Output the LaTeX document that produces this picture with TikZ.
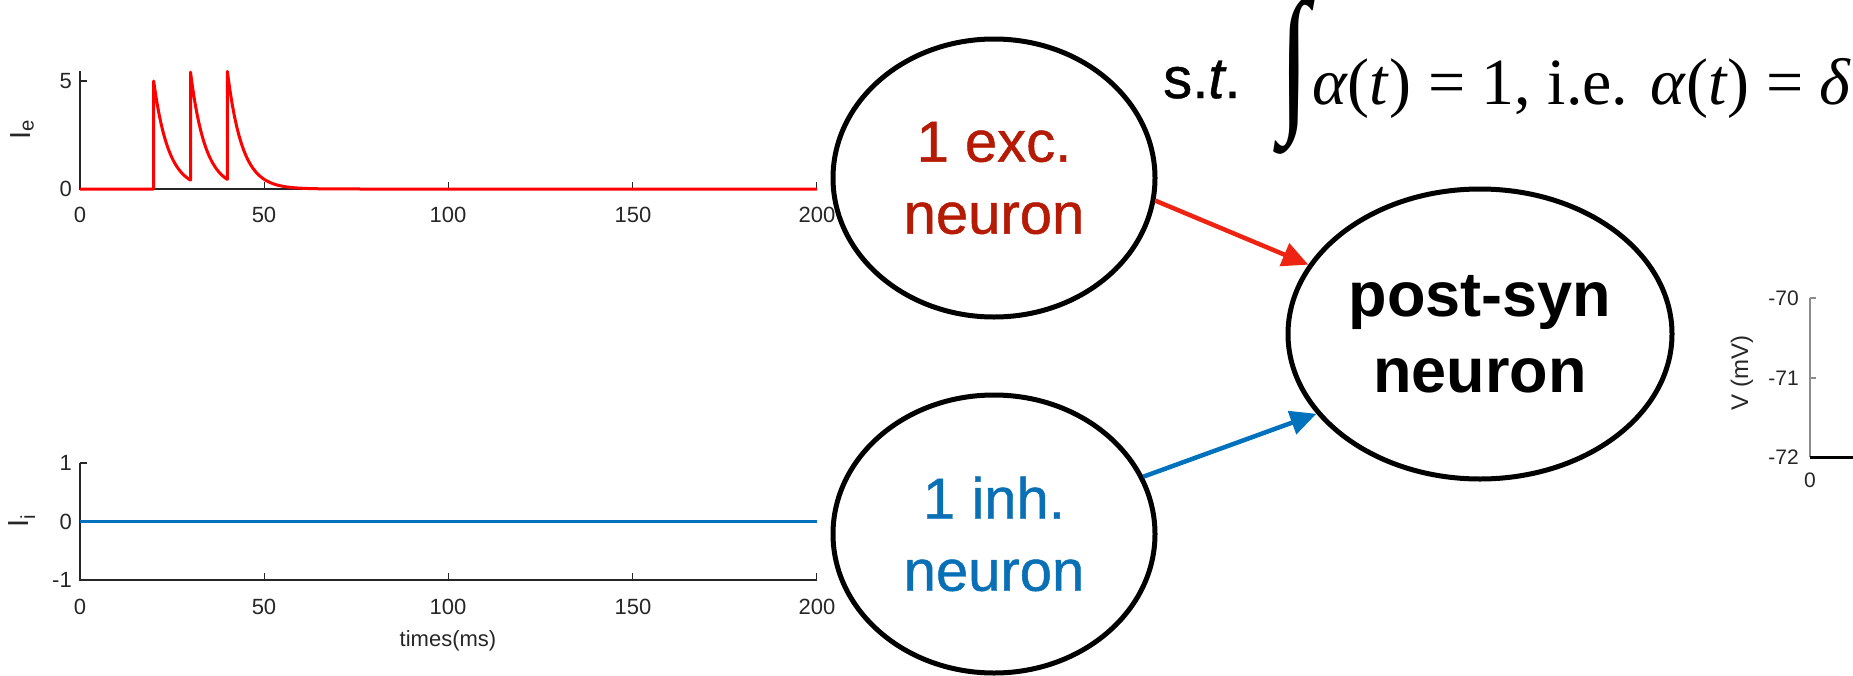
\documentclass[tikz,border=0pt]{standalone}
\usepackage{fontspec}
\setmainfont{Liberation Sans}
\newfontfamily\tnr{Liberation Serif}
\newfontfamily\nfont[FakeBold=0.8]{Liberation Sans}
\usetikzlibrary{arrows.meta,shapes.geometric}
\definecolor{axgray}{HTML}{262626}
\definecolor{lightax}{HTML}{8C8C8C}
\definecolor{excred}{HTML}{B51A05}
\definecolor{arrred}{HTML}{EE2412}
\definecolor{curvered}{HTML}{FF0000}
\definecolor{mblue}{HTML}{0072BD}
\definecolor{inhblue}{HTML}{0A70B5}
\begin{document}
\begin{tikzpicture}[x=1pt,y=-1pt,
  axisline/.style={draw=axgray, line width=1.2pt},
  ticklab/.style={text=axgray, font=\fontsize{22}{24}\selectfont, inner sep=0pt},
  neuron/.style={ellipse, draw=black, line width=5pt, inner sep=0pt, align=center},
  conn/.style={line width=4.5pt, -{Triangle[length=26pt,width=24pt]}},
]
\useasboundingbox (0,0) rectangle (1853,675);

% ---------- top plot (I_e) ----------
\draw[axisline] (80,71) -- (80,189) -- (817,189);
\foreach \t in {50,100,150,200} \draw[axisline] ({80+3.684*\t},189) -- ({80+3.684*\t},182);
\draw[axisline] (80,81) -- (87,81);
\node[ticklab, anchor=east] (ty5) at (72,81) {5};
\node[ticklab, anchor=east] (ty0) at (72,189) {0};
\node[ticklab] (tx0) at (80,215) {0};
\node[ticklab] (tx50) at (264,215) {50};
\node[ticklab] (tx100) at (448,215) {100};
\node[ticklab] (tx150) at (633,215) {150};
\node[ticklab] (tx200) at (817,215) {200};
\node[rotate=90, text=axgray, font=\fontsize{29}{29}\selectfont] (ylabe) at (22,130) {I\textsubscript{e}};
\draw[curvered, line width=3pt, line join=round]
  (80,189) -- (153.68,189)
  -- plot[domain=20:30, samples=40] ({80+3.684*\x},{189-108*exp(-(\x-20)/4)})
  -- plot[domain=30:40, samples=40] ({80+3.684*\x},{189-116.86*exp(-(\x-30)/4)})
  -- plot[domain=40:90, samples=80] ({80+3.684*\x},{189-117.6*exp(-(\x-40)/4)})
  -- (817,189);

% ---------- bottom plot (I_i) ----------
\draw[axisline] (80,463) -- (80,580) -- (817,580);
\foreach \t in {50,100,150,200} \draw[axisline] ({80+3.684*\t},580) -- ({80+3.684*\t},573);
\draw[axisline] (80,463) -- (87,463);
\draw[axisline] (80,521.5) -- (87,521.5);
\node[ticklab, anchor=east] (by1) at (72,463) {1};
\node[ticklab, anchor=east] (by0) at (72,521.5) {0};
\node[ticklab, anchor=east] (bym1) at (72,580) {-1};
\node[ticklab] (bx0) at (80,607) {0};
\node[ticklab] (bx50) at (264,607) {50};
\node[ticklab] (bx100) at (448,607) {100};
\node[ticklab] (bx150) at (633,607) {150};
\node[ticklab] (bx200) at (817,607) {200};
\node[ticklab] (xlab) at (448,641) {times(ms)};
\node[rotate=90, text=axgray, font=\fontsize{29}{29}\selectfont] (ylabi) at (22,521) {I\textsubscript{i}};
\draw[mblue, line width=3pt] (80,521.5) -- (817,521.5);

% ---------- neurons ----------
\node[neuron, minimum width=322pt, minimum height=278pt, text=excred,
      font=\nfont\fontsize{58}{72}\selectfont] (exc) at (994,178) {1 exc.\\neuron};
\node[neuron, minimum width=322pt, minimum height=278pt, text=inhblue,
      font=\nfont\fontsize{58}{72}\selectfont] (inh) at (994,534) {1 inh.\\neuron};
\node[neuron, minimum width=384pt, minimum height=290pt,
      font=\bfseries\fontsize{63}{76}\selectfont] (post) at (1480,334) {post-syn\\neuron};

\draw[conn, arrred] (exc.-8) -- (post.158);
\draw[conn, mblue] (inh.21) -- (post.206);

% ---------- equation ----------
\node[anchor=base west, inner sep=0pt, font=\nfont\fontsize{58}{60}\selectfont] (st) at (1163,98) {s.\textit{t}.};
\node[anchor=north, inner sep=0pt] (integral) at (1294,24)
  {\raisebox{0pt}[\dimexpr\height-27pt\relax][\depth]{\resizebox*{30pt}{157pt}{\tnr\fontsize{62}{62}\selectfont ∫}}};
\node[anchor=base west, inner sep=0pt, font=\tnr\fontsize{66}{68}\selectfont] (eq) at (1312,104)
  {\textit{α}(\textit{t}) = 1, i.e. \textit{α}(\textit{t}) = \textit{δ}};

% ---------- right partial plot ----------
\draw[draw=lightax, line width=1.2pt] (1810,298) -- (1810,457);
\draw[draw=lightax, line width=1.2pt] (1810,298) -- (1816,298);
\draw[draw=lightax, line width=1.2pt] (1810,378) -- (1816,378);
\node[ticklab, anchor=east, font=\fontsize{21}{22}\selectfont] (v70) at (1799,298) {-70};
\node[ticklab, anchor=east, font=\fontsize{21}{22}\selectfont] (v71) at (1799,378) {-71};
\node[ticklab, anchor=east, font=\fontsize{21}{22}\selectfont] (v72) at (1799,457) {-72};
\node[ticklab, font=\fontsize{21}{22}\selectfont] (v0) at (1810,480) {0};
\node[rotate=90, text=axgray, font=\fontsize{24}{25}\selectfont] (vlab) at (1742,373) {V (mV)};
\draw[black, line width=3pt] (1810,457) -- (1853,457);
\end{tikzpicture}
\end{document}
